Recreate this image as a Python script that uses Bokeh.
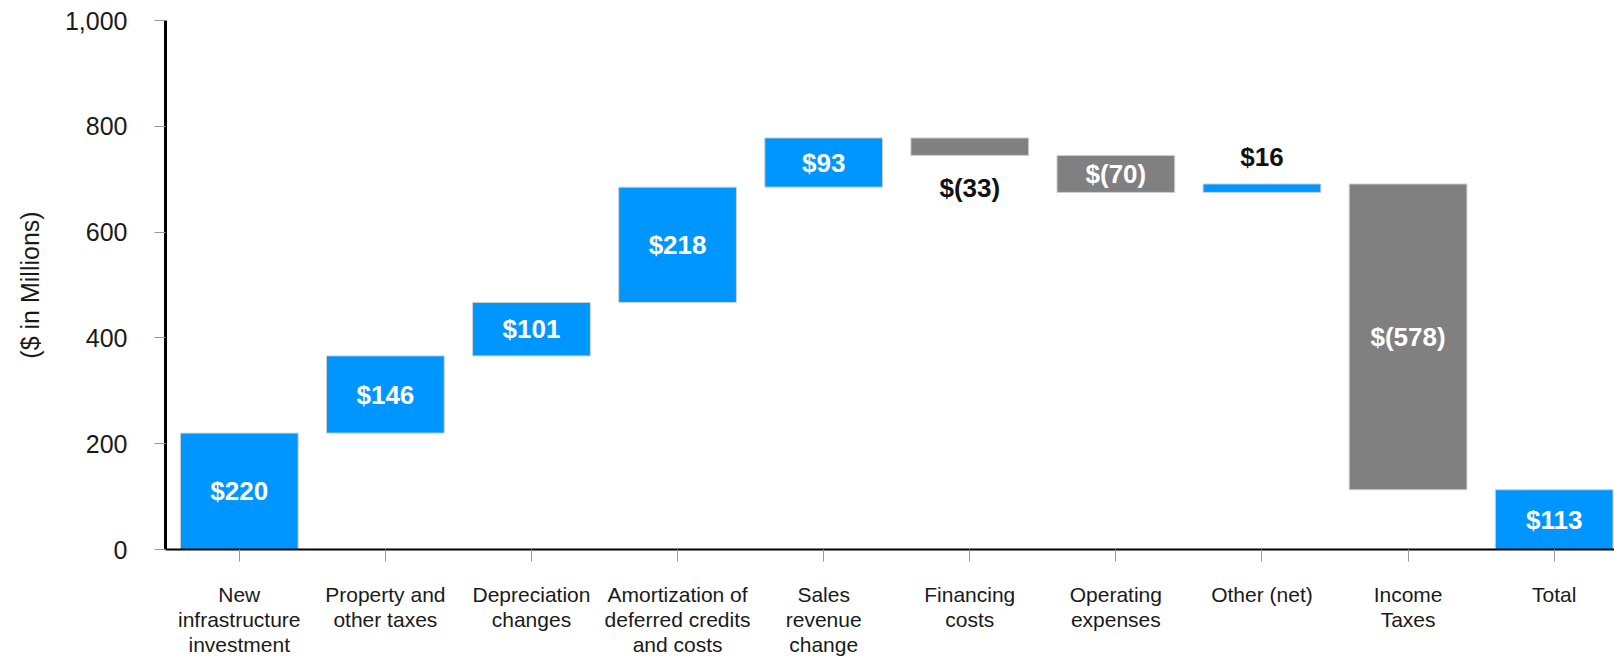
from bokeh.plotting import figure
from bokeh.models import ColumnDataSource, FixedTicker, NumeralTickFormatter, Range1d
from bokeh.embed import file_html
from bokeh.resources import INLINE
from bokeh.core.properties import value

categories = ["New\ninfrastructure\ninvestment", "Property and\nother taxes", "Depreciation\nchanges",
              "Amortization of\ndeferred credits\nand costs", "Sales\nrevenue\nchange", "Financing\ncosts",
              "Operating\nexpenses", "Other (net)", "Income\nTaxes", "Total"]
changes = [220, 146, 101, 218, 93, -33, -70, 16, -578, 113]
is_total = [False, False, False, False, False, False, False, False, False, True]
labels = ["$220", "$146", "$101", "$218", "$93", "$(33)", "$(70)", "$16", "$(578)", "$113"]
label_outside = [False, False, False, False, False, True, False, True, False, False]
y_ticks = [0, 200, 400, 600, 800, 1000]

BLUE = "#0096FF"
GREY = "#808080"

xs, bottoms, tops, colors, lx, ly, lcol = [], [], [], [], [], [], []
run = 0
for i, (c, t) in enumerate(zip(changes, is_total)):
    if t:
        b, tp = 0, c
    else:
        b, tp = run, run + c
        run += c
    lo, hi = min(b, tp), max(b, tp)
    xs.append(i)
    bottoms.append(lo)
    tops.append(hi)
    colors.append(BLUE if c >= 0 else GREY)
    lx.append(i)
    if label_outside[i]:
        if c < 0:
            ly.append(lo - 61)
        else:
            ly.append(hi + 51)
        lcol.append("#111111")
    else:
        ly.append((lo + hi) / 2)
        lcol.append("white")

src = ColumnDataSource(dict(x=xs, bottom=bottoms, top=tops, color=colors))
lsrc = ColumnDataSource(dict(x=lx, y=ly, text=labels, color=lcol))

p = figure(width=1614, height=659, output_backend="svg", toolbar_location=None,
           x_range=Range1d(-0.505, 9.413), y_range=Range1d(0, 1000),
           min_border_left=165, min_border_right=0, min_border_top=20, min_border_bottom=101)
p.vbar(x="x", bottom="bottom", top="top", width=0.806, color="color", source=src,
       line_color="#d0d0d0", line_width=1)
p.text(x="x", y="y", text="text", text_color="color", source=lsrc,
       text_align="center", text_baseline="middle", text_font=value("Liberation Sans"),
       text_font_size="26px", text_font_style="bold")

p.xgrid.visible = False
p.ygrid.visible = False
p.outline_line_color = None
p.background_fill_color = "white"
p.border_fill_color = "white"

xa = p.xaxis[0]
xa.ticker = FixedTicker(ticks=list(range(len(categories))))
xa.major_label_overrides = {i: c for i, c in enumerate(categories)}
xa.major_label_text_font = "Liberation Sans"
xa.major_label_text_font_size = "21px"
xa.major_label_text_line_height = 1.1
xa.major_label_text_color = "#1a1a1a"
xa.major_label_standoff = 21
xa.axis_line_color = "black"
xa.axis_line_width = 2
xa.major_tick_in = 0
xa.major_tick_out = 12
xa.major_tick_line_color = "#999999"
xa.minor_tick_line_color = None

ya = p.yaxis[0]
ya.ticker = FixedTicker(ticks=y_ticks)
ya.formatter = NumeralTickFormatter(format="0,0")
ya.major_label_text_font = "Liberation Sans"
ya.major_label_text_font_size = "25px"
ya.major_label_text_color = "#1a1a1a"
ya.major_label_standoff = 27
ya.axis_line_color = "black"
ya.axis_line_width = 3
ya.major_tick_in = 0
ya.major_tick_out = 11
ya.major_tick_line_color = "#999999"
ya.minor_tick_line_color = None
ya.axis_label = "($ in Millions)"
ya.axis_label_text_font = "Liberation Sans"
ya.axis_label_text_font_size = "25px"
ya.axis_label_text_font_style = "normal"
ya.axis_label_text_color = "#1a1a1a"
ya.axis_label_standoff = 18

open("out.html", "w").write(file_html(p, INLINE))
